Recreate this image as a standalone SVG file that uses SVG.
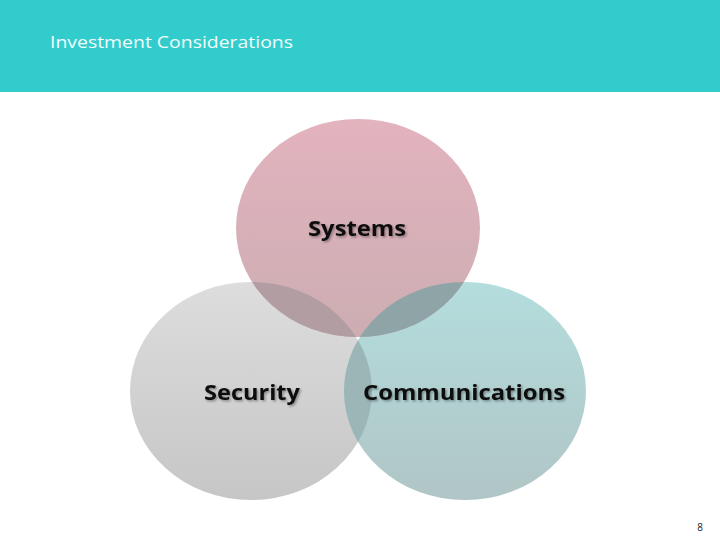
<svg xmlns="http://www.w3.org/2000/svg" width="720" height="540" viewBox="0 0 720 540">
<style>
.lbl{font-family:"Open Sans","Liberation Sans",sans-serif;font-weight:bold;font-size:22px;fill:#111;text-anchor:middle;filter:url(#sh)}
</style>
<defs>
<linearGradient id="gP" x1="0" y1="0" x2="0" y2="1"><stop offset="0" stop-color="#E3B3BE"/><stop offset="1" stop-color="#CCADB2"/></linearGradient>
<linearGradient id="gG" x1="0" y1="0" x2="0" y2="1"><stop offset="0" stop-color="#DDDDDD"/><stop offset="1" stop-color="#C6C6C6"/></linearGradient>
<linearGradient id="gT" x1="0" y1="0" x2="0" y2="1"><stop offset="0" stop-color="#B4DDDD"/><stop offset="1" stop-color="#B0C5C6"/></linearGradient>
<clipPath id="cTop"><ellipse cx="358" cy="228" rx="122" ry="109"/></clipPath>
<clipPath id="cLeft"><ellipse cx="251" cy="391" rx="121" ry="109"/></clipPath>
<filter id="sh" x="-10%" y="-20%" width="120%" height="150%"><feDropShadow dx="1.5" dy="1.5" stdDeviation="0.8" flood-color="#000" flood-opacity="0.35"/></filter>
</defs>
<rect x="0" y="0" width="720" height="540" fill="#FFFFFF"/>
<rect x="0" y="0" width="720" height="92" fill="#33CCCC"/>
<text x="50" y="48" font-family="'Open Sans','Liberation Sans',sans-serif" font-size="17" fill="#F2FCFC" textLength="243" lengthAdjust="spacingAndGlyphs">Investment Considerations</text>
<g id="security"><ellipse cx="251" cy="391" rx="121" ry="109" fill="url(#gG)"/></g>
<g id="communications"><ellipse cx="465" cy="391" rx="121" ry="109" fill="url(#gT)"/></g>
<g id="systems"><ellipse cx="358" cy="228" rx="122" ry="109" fill="url(#gP)"/></g>
<g id="overlaps">
<ellipse cx="251" cy="391" rx="121" ry="109" fill="#B19DA2" clip-path="url(#cTop)"/>
<ellipse cx="465" cy="391" rx="121" ry="109" fill="#8EA4A7" clip-path="url(#cTop)"/>
<ellipse cx="465" cy="391" rx="121" ry="109" fill="#9CB6B8" clip-path="url(#cLeft)"/>
</g>
<g id="labels">
<text class="lbl" x="357" y="236" textLength="98" lengthAdjust="spacingAndGlyphs">Systems</text>
<text class="lbl" x="252" y="400" textLength="96" lengthAdjust="spacingAndGlyphs">Security</text>
<text class="lbl" x="464" y="400" textLength="202" lengthAdjust="spacingAndGlyphs">Communications</text>
</g>
<text x="700" y="531" font-family="'Open Sans','Liberation Sans',sans-serif" font-size="10" fill="#222" text-anchor="middle">8</text>
</svg>
